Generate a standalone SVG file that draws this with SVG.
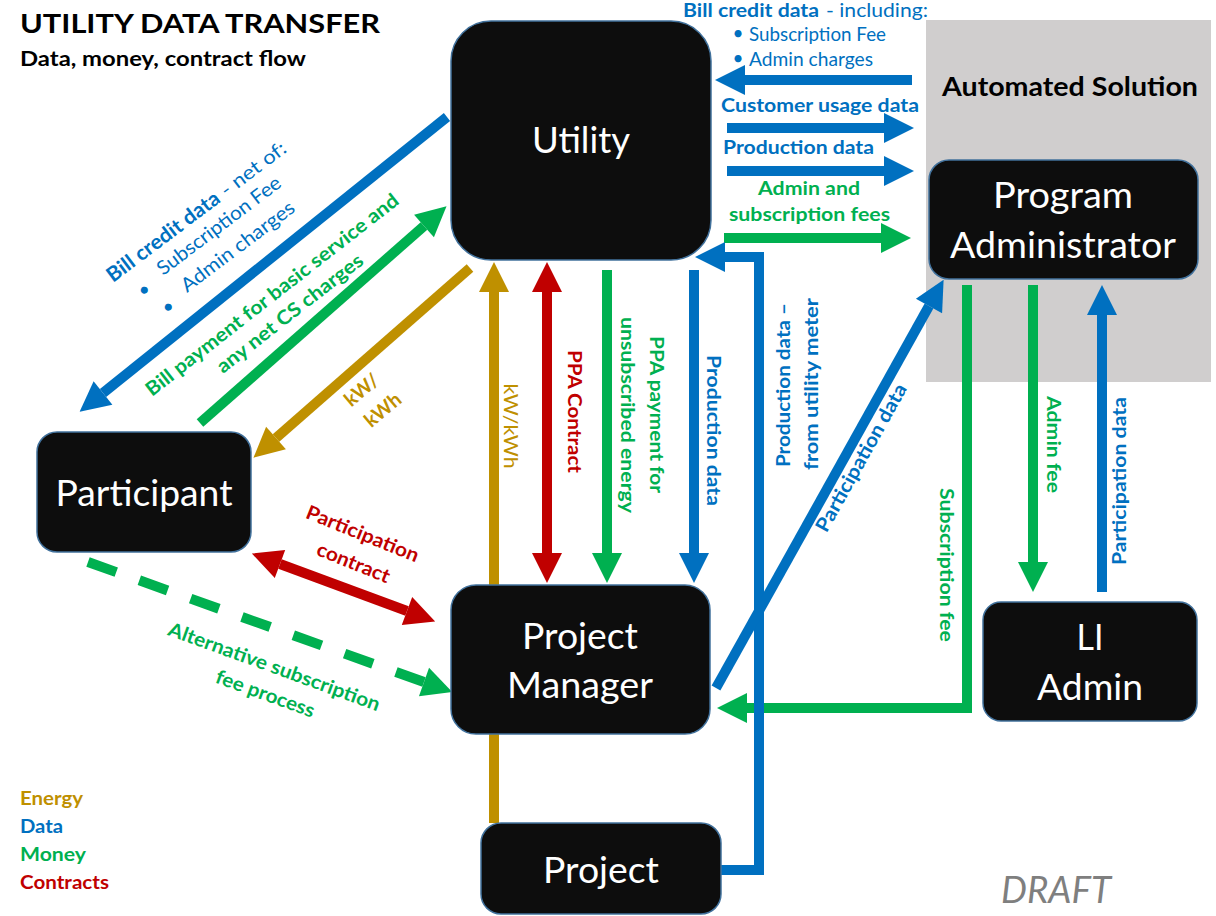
<svg xmlns="http://www.w3.org/2000/svg" width="1216" height="916" viewBox="0 0 1216 916">
<style>
text { font-family: Lato, "Open Sans", "Liberation Sans", sans-serif; }
.b { font-weight: bold; }
.blue { fill: #0070c0; }
.green { fill: #00b050; }
.gold { fill: #bf9000; }
.red { fill: #c00000; }
.lbl { font-size: 19.5px; }
.m { text-anchor: middle; }
.node rect { fill: #0d0d0d; stroke: #41719c; stroke-width: 1.5; }
.node text { fill: #ffffff; font-size: 36px; text-anchor: middle; }
</style>
<defs>
<marker id="mb" markerUnits="userSpaceOnUse" markerWidth="30" markerHeight="30" refX="0" refY="15" orient="auto-start-reverse" overflow="visible"><path d="M0,0 L30,15 L0,30 z" fill="#0070c0"/></marker>
<marker id="mg" markerUnits="userSpaceOnUse" markerWidth="30" markerHeight="30" refX="0" refY="15" orient="auto-start-reverse" overflow="visible"><path d="M0,0 L30,15 L0,30 z" fill="#00b050"/></marker>
<marker id="mo" markerUnits="userSpaceOnUse" markerWidth="30" markerHeight="30" refX="0" refY="15" orient="auto-start-reverse" overflow="visible"><path d="M0,0 L30,15 L0,30 z" fill="#bf9000"/></marker>
<marker id="mr" markerUnits="userSpaceOnUse" markerWidth="30" markerHeight="30" refX="0" refY="15" orient="auto-start-reverse" overflow="visible"><path d="M0,0 L30,15 L0,30 z" fill="#c00000"/></marker>
</defs>
<rect width="1216" height="916" fill="#ffffff"/>
<rect id="automated-solution-area" x="926" y="20" width="285" height="362" fill="#d0cece"/>

<g id="connectors" fill="none" stroke-width="10">
<path d="M967,285 V708 H747" stroke="#00b050" marker-end="url(#mg)"/>
<path d="M912,80 H745" stroke="#0070c0" marker-end="url(#mb)"/>
<path d="M727,128 H884" stroke="#0070c0" marker-end="url(#mb)"/>
<path d="M727,171 H884" stroke="#0070c0" marker-end="url(#mb)"/>
<path d="M724,238 H881" stroke="#00b050" marker-end="url(#mg)"/>
<path d="M1033,285 V562" stroke="#00b050" marker-end="url(#mg)"/>
<path d="M1102,592 V315" stroke="#0070c0" marker-end="url(#mb)"/>
<path d="M494,823 V292" stroke="#bf9000" marker-end="url(#mo)"/>
<path d="M547,292 V553" stroke="#c00000" marker-start="url(#mr)" marker-end="url(#mr)"/>
<path d="M607,270 V553" stroke="#00b050" marker-end="url(#mg)"/>
<path d="M694,270 V553" stroke="#0070c0" marker-end="url(#mb)"/>
<path d="M721,870 H759 V257 H725" stroke="#0070c0" marker-end="url(#mb)"/>
<path d="M447,117 L103,393" stroke="#0070c0" marker-end="url(#mb)"/>
<path d="M200,423 L424,226" stroke="#00b050" marker-end="url(#mg)"/>
<path d="M470,268 L276,438" stroke="#bf9000" marker-end="url(#mo)"/>
<path d="M280,564 L407,611" stroke="#c00000" marker-start="url(#mr)" marker-end="url(#mr)"/>
<path d="M88,562 L424,682" stroke="#00b050" stroke-dasharray="30 24.5" marker-end="url(#mg)"/>
<path d="M716,688 L929,306" stroke="#0070c0" marker-end="url(#mb)"/>
</g>

<g id="node-utility" class="node"><rect x="451" y="21" width="260" height="239" rx="40"/><text x="581" y="153" textLength="98" lengthAdjust="spacingAndGlyphs">Utility</text></g>
<g id="node-program-administrator" class="node"><rect x="929" y="160" width="269" height="119" rx="20"/><text x="1063" y="208" textLength="140" lengthAdjust="spacingAndGlyphs">Program</text><text x="1063" y="258" textLength="226" lengthAdjust="spacingAndGlyphs">Administrator</text></g>
<g id="node-participant" class="node"><rect x="37" y="432" width="214" height="120" rx="20"/><text x="144" y="506" textLength="177" lengthAdjust="spacingAndGlyphs">Participant</text></g>
<g id="node-project-manager" class="node"><rect x="451" y="585" width="259" height="149" rx="25"/><text x="580" y="649" textLength="116" lengthAdjust="spacingAndGlyphs">Project</text><text x="580" y="698" textLength="146" lengthAdjust="spacingAndGlyphs">Manager</text></g>
<g id="node-project" class="node"><rect x="481" y="823" width="240" height="91" rx="20"/><text x="601" y="883" textLength="116" lengthAdjust="spacingAndGlyphs">Project</text></g>
<g id="node-li-admin" class="node"><rect x="983" y="602" width="214" height="119" rx="18"/><text x="1090" y="650" textLength="27" lengthAdjust="spacingAndGlyphs">LI</text><text x="1090" y="700" textLength="106" lengthAdjust="spacingAndGlyphs">Admin</text></g>

<g id="labels">
<text x="20" y="33" font-size="27" class="b" textLength="360" lengthAdjust="spacingAndGlyphs">UTILITY DATA TRANSFER</text>
<text x="20" y="66" font-size="20" class="b" textLength="286" lengthAdjust="spacingAndGlyphs">Data, money, contract flow</text>
<text x="942" y="96" font-size="26.5" class="b" textLength="256" lengthAdjust="spacingAndGlyphs">Automated Solution</text>

<text x="683" y="17" class="b blue" font-size="19" textLength="136" lengthAdjust="spacingAndGlyphs">Bill credit data</text>
<text x="826" y="17" class="blue" font-size="19" textLength="102" lengthAdjust="spacingAndGlyphs">- including:</text>
<text x="738" y="40" class="blue m" font-size="19">•</text>
<text x="749" y="41" class="blue" font-size="19" textLength="137" lengthAdjust="spacingAndGlyphs">Subscription Fee</text>
<text x="738" y="65" class="blue m" font-size="19">•</text>
<text x="749" y="66" class="blue" font-size="19" textLength="124" lengthAdjust="spacingAndGlyphs">Admin charges</text>
<text x="721" y="112" class="b blue lbl" textLength="198" lengthAdjust="spacingAndGlyphs">Customer usage data</text>
<text x="723" y="154" class="b blue lbl" textLength="151" lengthAdjust="spacingAndGlyphs">Production data</text>
<text x="809" y="195" class="b green lbl m" textLength="102" lengthAdjust="spacingAndGlyphs">Admin and</text>
<text x="809.5" y="221" class="b green lbl m" textLength="161" lengthAdjust="spacingAndGlyphs">subscription fees</text>

<text transform="translate(113,283) rotate(-37)" class="b blue" font-size="20.5" textLength="136" lengthAdjust="spacingAndGlyphs">Bill credit data</text>
<text transform="translate(113,283) rotate(-37)" x="142" class="blue lbl" textLength="77" lengthAdjust="spacingAndGlyphs">- net of:</text>
<text transform="translate(147.6,294.8) rotate(-37)" class="blue m" font-size="19">•</text>
<text transform="translate(163,276) rotate(-37)" class="blue" font-size="19.5" textLength="150" lengthAdjust="spacingAndGlyphs">Subscription Fee</text>
<text transform="translate(171.6,311.8) rotate(-37)" class="blue m" font-size="19">•</text>
<text transform="translate(187,293) rotate(-37)" class="blue" font-size="19.5" textLength="137" lengthAdjust="spacingAndGlyphs">Admin charges</text>

<text transform="translate(152,397) rotate(-38)" class="b green lbl" textLength="315" lengthAdjust="spacingAndGlyphs">Bill payment for basic service and</text>
<text transform="translate(223,374) rotate(-38)" class="b green lbl" textLength="180" lengthAdjust="spacingAndGlyphs">any net CS charges</text>

<text transform="translate(366,395) rotate(-40)" class="b gold m" font-size="19.5">kW/</text>
<text transform="translate(387,415) rotate(-40)" class="b gold m" font-size="19.5">kWh</text>

<text transform="translate(360,540) rotate(22)" class="b red lbl m" textLength="120" lengthAdjust="spacingAndGlyphs">Participation</text>
<text transform="translate(351,569) rotate(22)" class="b red lbl m" textLength="77" lengthAdjust="spacingAndGlyphs">contract</text>

<text transform="translate(272,673) rotate(20)" class="b green lbl m" textLength="224" lengthAdjust="spacingAndGlyphs">Alternative subscription</text>
<text transform="translate(263,700) rotate(20)" class="b green lbl m" textLength="104" lengthAdjust="spacingAndGlyphs">fee process</text>

<text transform="translate(504,426) rotate(90)" class="gold m" font-size="19.5" textLength="85" lengthAdjust="spacingAndGlyphs">kW/kWh</text>
<text transform="translate(567.5,411.5) rotate(90)" class="b red lbl m" textLength="123" lengthAdjust="spacingAndGlyphs">PPA Contract</text>
<text transform="translate(650,414.5) rotate(90)" class="b green lbl m" textLength="157" lengthAdjust="spacingAndGlyphs">PPA payment for</text>
<text transform="translate(621,415) rotate(90)" class="b green lbl m" textLength="196" lengthAdjust="spacingAndGlyphs">unsubscribed energy</text>
<text transform="translate(707,430.5) rotate(90)" class="b blue lbl m" textLength="151" lengthAdjust="spacingAndGlyphs">Production data</text>
<text transform="translate(790,385) rotate(-90)" class="b blue lbl m" textLength="164" lengthAdjust="spacingAndGlyphs">Production data –</text>
<text transform="translate(817.5,384) rotate(-90)" class="b blue lbl m" textLength="172" lengthAdjust="spacingAndGlyphs">from utility meter</text>
<text transform="translate(867,461) rotate(-60.8)" class="b blue lbl m" textLength="166" lengthAdjust="spacingAndGlyphs">Participation data</text>
<text transform="translate(940,565) rotate(90)" class="b green lbl m" textLength="154" lengthAdjust="spacingAndGlyphs">Subscription fee</text>
<text transform="translate(1047,444.5) rotate(90)" class="b green lbl m" textLength="97" lengthAdjust="spacingAndGlyphs">Admin fee</text>
<text transform="translate(1126,481) rotate(-90)" class="b blue lbl m" textLength="168" lengthAdjust="spacingAndGlyphs">Participation data</text>

<text x="20" y="805" class="b gold lbl" textLength="63" lengthAdjust="spacingAndGlyphs">Energy</text>
<text x="20" y="833" class="b blue lbl" textLength="43" lengthAdjust="spacingAndGlyphs">Data</text>
<text x="20" y="861" class="b green lbl" textLength="66" lengthAdjust="spacingAndGlyphs">Money</text>
<text x="20" y="889" class="b red lbl" textLength="89" lengthAdjust="spacingAndGlyphs">Contracts</text>

<text x="1001" y="903" font-size="36" font-style="italic" fill="#7f7f7f" textLength="110" lengthAdjust="spacingAndGlyphs">DRAFT</text>
</g>
</svg>
